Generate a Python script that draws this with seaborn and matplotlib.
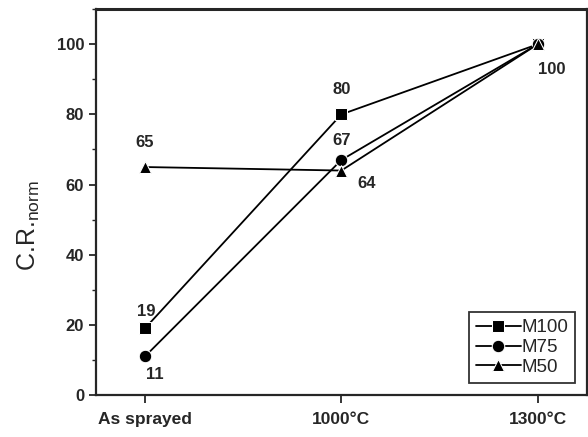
import pandas as pd
import seaborn as sns
import matplotlib.pyplot as plt
from matplotlib.ticker import MultipleLocator

# Data
conditions = ["As sprayed", "1000\u00b0C", "1300\u00b0C"]
m100 = [19, 80, 100]
m75 = [11, 67, 100]
m50 = [65, 64, 100]

rows = []
for name, vals in [("M100", m100), ("M75", m75), ("M50", m50)]:
    for i, v in enumerate(vals):
        rows.append({"x": i, "cr": v, "sample": name})
df = pd.DataFrame(rows)

sns.set_style("ticks")
plt.rcParams["font.family"] = ["Liberation Sans", "DejaVu Sans"]
plt.rcParams["mathtext.fontset"] = "custom"
plt.rcParams["mathtext.rm"] = "Liberation Sans"

fig = plt.figure(figsize=(5.88, 4.37), dpi=100)
ax = fig.add_axes([0.163, 0.096, 0.835, 0.883])

sns.lineplot(
    data=df, x="x", y="cr", hue="sample", style="sample",
    palette={"M100": "black", "M75": "black", "M50": "black"},
    markers={"M100": "s", "M75": "o", "M50": "^"},
    dashes=False, markersize=9, linewidth=1.3, ax=ax,
)

# value labels (offsets in points)
offsets = {
    "M100": [(1, 12), (0, 18), None],
    "M75": [(7, -13), (0, 14), None],
    "M50": [(0, 18), (18, -9), (10, -18)],
}
for name, vals in [("M100", m100), ("M75", m75), ("M50", m50)]:
    for i, v in enumerate(vals):
        off = offsets[name][i]
        if off is None:
            continue
        ax.annotate(str(v), (i, v), xytext=off, textcoords="offset points",
                    ha="center", va="center", fontsize=12, fontweight="bold")

ax.set_xlim(-0.25, 2.25)
ax.set_ylim(0, 110)
ax.set_xticks(range(len(conditions)))
ax.set_xticklabels(conditions, fontsize=12.5, fontweight="bold")
ax.yaxis.set_major_locator(MultipleLocator(20))
ax.yaxis.set_minor_locator(MultipleLocator(10))
ax.tick_params(axis="y", labelsize=12, direction="out", length=5, width=1.3)
ax.tick_params(axis="y", which="minor", length=3, width=1)
ax.tick_params(axis="x", direction="out", length=6, width=1.3, pad=6)
for lbl in ax.get_yticklabels():
    lbl.set_fontweight("bold")
ax.set_xlabel("")
ax.set_ylabel("C.R.$_{\\rm norm}$", fontsize=18)
ax.yaxis.set_label_coords(-0.11, 0.44)
for s in ax.spines.values():
    s.set_linewidth(1.6)
ax.spines["top"].set_linewidth(2.2)

leg = ax.legend(loc="lower right", fontsize=13.5, frameon=True, fancybox=False,
                edgecolor="black", handlelength=2.4, handletextpad=0.05,
                labelspacing=0.15, borderpad=0.35, bbox_to_anchor=(0.995, 0.008))
leg.get_frame().set_linewidth(1.3)

fig.savefig("out.png", dpi=100)
